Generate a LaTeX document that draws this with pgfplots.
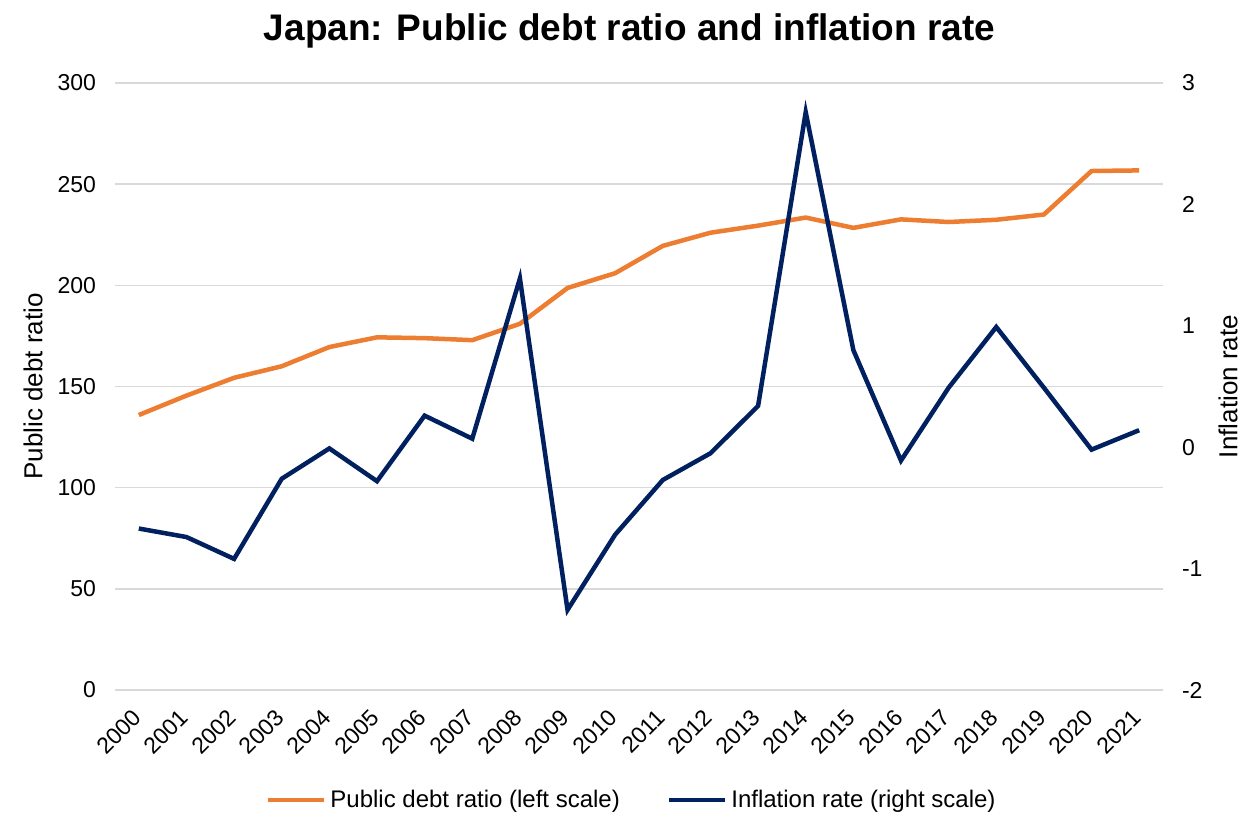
\documentclass[border=0pt]{standalone}
\usepackage{pgfplots}
\pgfplotsset{compat=1.18}
\usepackage{fontspec}
\setmainfont{Liberation Sans}
\definecolor{debtc}{HTML}{ED7D31}
\definecolor{inflc}{HTML}{002060}
\definecolor{gridc}{HTML}{D9D9D9}
\begin{document}
\begin{tikzpicture}
\useasboundingbox (-57.5pt,-62pt) rectangle (564pt,345pt);
\pgfplotsset{
  common/.style={
    scale only axis, width=524pt, height=303.5pt,
    xmin=1999.5, xmax=2021.5,
    xtick={2000,...,2021},
    major tick length=0pt,
    axis line style={draw=none},
    tick label style={font=\fontsize{11.5}{13}\selectfont},
    /pgf/number format/assume math mode=true,
    /pgf/number format/1000 sep={},
    label style={font=\fontsize{13}{15}\selectfont},
  }
}
\begin{axis}[common,
  ymin=0, ymax=300, ytick={0,50,...,300},
  ymajorgrids, grid style={gridc, line width=0.8pt},
  xticklabel style={rotate=45, anchor=north east, inner sep=1pt, xshift=-7.9pt, yshift=-2.3pt},
  yticklabel style={xshift=-6pt},
  ylabel={Public debt ratio},
  ylabel style={at={(axis description cs:-0.0782,0.5)}, anchor=center},
  title={Japan: Public debt ratio and inflation rate},
  title style={at={(axis description cs:0.491,1)}, anchor=center, yshift=20pt, font=\bfseries\fontsize{18.5}{22}\selectfont},
]
\addplot[debtc, line width=2.25pt] coordinates {
(2000,135.9) (2001,145.5) (2002,154.3) (2003,160.0) (2004,169.5) (2005,174.3)
(2006,173.9) (2007,172.9) (2008,181.0) (2009,198.7) (2010,206.0) (2011,219.5)
(2012,226.0) (2013,229.5) (2014,233.5) (2015,228.4) (2016,232.6) (2017,231.3)
(2018,232.4) (2019,235.0) (2020,256.5) (2021,256.8)};
\end{axis}
\begin{axis}[common,
  axis y line*=right, axis x line=none,
  ymin=-2, ymax=3, ytick={-2,-1,...,3},
  yticklabel style={xshift=6pt},
  ylabel={Inflation rate},
  ylabel style={at={(axis description cs:1.062,0.5)}, anchor=center},
  legend style={at={(axis description cs:0.494,-0.181)}, anchor=center, draw=none,
    font=\fontsize{12}{14}\selectfont, legend columns=2,
    /tikz/every even column/.append style={column sep=21.5pt},
    inner sep=0pt},
  legend image code/.code={\draw[#1, line width=2.25pt] (0pt,0pt) -- (28pt,0pt);},
]
\addlegendimage{debtc, line width=2.25pt}
\addlegendentry{Public debt ratio (left scale)}
\addplot[inflc, line width=2.25pt] coordinates {
(2000,-0.67) (2001,-0.74) (2002,-0.92) (2003,-0.26) (2004,-0.01) (2005,-0.28)
(2006,0.26) (2007,0.07) (2008,1.39) (2009,-1.34) (2010,-0.72) (2011,-0.27)
(2012,-0.05) (2013,0.34) (2014,2.76) (2015,0.80) (2016,-0.11) (2017,0.49)
(2018,0.99) (2019,0.49) (2020,-0.02) (2021,0.14)};
\addlegendentry{Inflation rate (right scale)}
\end{axis}
\end{tikzpicture}
\end{document}
